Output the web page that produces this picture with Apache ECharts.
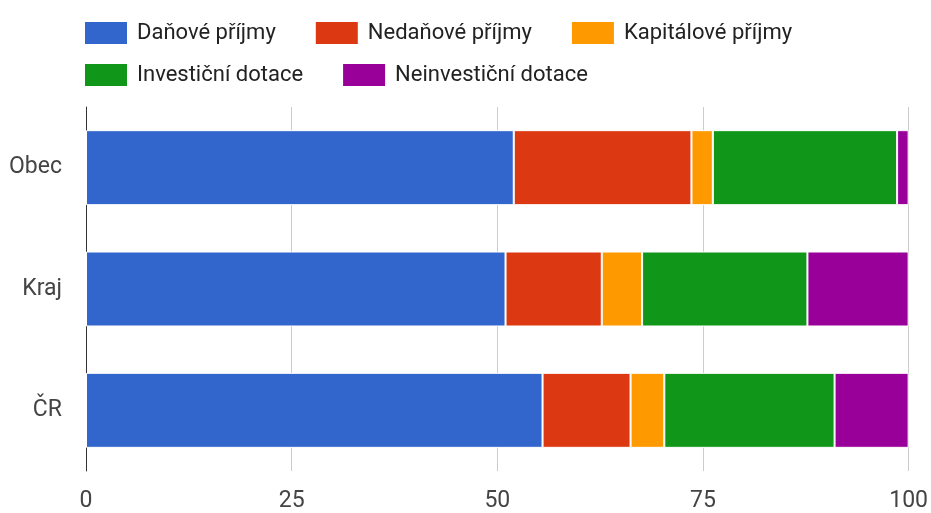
<!DOCTYPE html>
<html>
<head>
<meta charset="utf-8">
<script src="https://cdn.jsdelivr.net/npm/echarts@6/dist/echarts.min.js"></script>
<style>html,body{margin:0;padding:0;background:#fff;}#c{width:931px;height:513px;}</style>
</head>
<body>
<div id="c"></div>
<script>
const categories = ['Obec', 'Kraj', 'ČR'];
const seriesNames = ['Daňové příjmy', 'Nedaňové příjmy', 'Kapitálové příjmy', 'Investiční dotace', 'Neinvestiční dotace'];
const danove = [52.0, 51.0, 55.5];
const nedanove = [21.6, 11.7, 10.7];
const kapitalove = [2.6, 4.9, 4.1];
const investicni = [22.4, 20.1, 20.7];
const neinvesticni = [1.4, 12.3, 9.0];
const xTicks = [0, 25, 50, 75, 100];
const colors = ['#3366cc', '#dc3912', '#ff9900', '#109618', '#990099'];

const values = [danove, nedanove, kapitalove, investicni, neinvesticni];
const chart = echarts.init(document.getElementById('c'), null, {renderer: 'canvas'});
const legendText = {fontFamily: 'Roboto, sans-serif', fontSize: 22, color: '#222', padding: [0, 0, 0, 4]};
const axisFont = 'Roboto, sans-serif';
chart.setOption({
  animation: false,
  color: colors,
  legend: [
    {data: seriesNames.slice(0, 3), left: 83, top: 20, padding: 0, itemWidth: 44, itemHeight: 24, itemGap: 38,
     icon: 'rect', textStyle: legendText},
    {data: seriesNames.slice(3), left: 83, top: 62, padding: 0, itemWidth: 44, itemHeight: 24, itemGap: 38,
     icon: 'rect', textStyle: legendText}
  ],
  grid: {left: 86, right: 21, top: 107, bottom: 41, containLabel: false},
  xAxis: {
    type: 'value', min: xTicks[0], max: xTicks[xTicks.length - 1], interval: 25,
    axisLine: {show: false}, axisTick: {show: false},
    splitLine: {lineStyle: {color: '#cccccc', width: 1}},
    axisLabel: {fontFamily: axisFont, fontSize: 23, color: '#444', margin: 19}
  },
  yAxis: {
    type: 'category', data: categories, inverse: true,
    axisLine: {show: true, lineStyle: {color: '#333', width: 1}},
    axisTick: {show: false},
    axisLabel: {fontFamily: axisFont, fontSize: 23, color: '#444', margin: 24}
  },
  series: seriesNames.map((n, i) => ({
    name: n, type: 'bar', stack: 'total', data: values[i], barWidth: 75,
    itemStyle: {color: colors[i], borderColor: '#ffffff', borderWidth: 1}
  }))
});
</script>
</body>
</html>
